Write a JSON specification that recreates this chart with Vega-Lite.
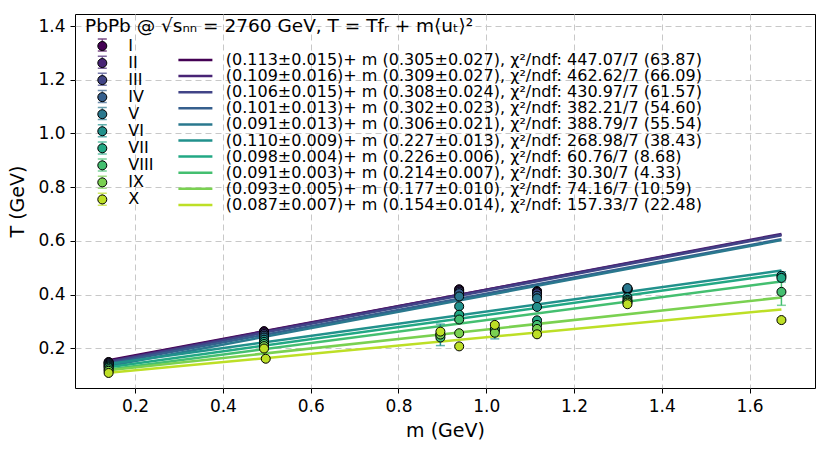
{
  "$schema": "https://vega.github.io/schema/vega-lite/v6.json",
  "width": 740,
  "height": 374,
  "autosize": {"type": "none"},
  "padding": {"left": 75, "top": 14, "right": 15, "bottom": 64},
  "background": "white",
  "title": {
    "text": "PbPb @ √sₙₙ = 2760 GeV, T = Tfᵣ + m⟨uₜ⟩²",
    "anchor": "start",
    "orient": "top",
    "frame": "group",
    "offset": -21,
    "dx": 10,
    "font": "DejaVu Sans",
    "fontSize": 18.5,
    "fontWeight": "normal",
    "color": "black"
  },
  "config": {
    "view": {"stroke": "black", "strokeWidth": 1},
    "axis": {
      "domain": false,
      "grid": true,
      "gridColor": "#c8c8c8",
      "gridDash": [6, 4],
      "gridWidth": 1,
      "tickColor": "black",
      "tickSize": 5,
      "tickWidth": 1,
      "labelFont": "DejaVu Sans",
      "labelFontSize": 17,
      "labelColor": "black",
      "titleFont": "DejaVu Sans",
      "titleFontSize": 19,
      "titleFontWeight": "normal",
      "titleColor": "black"
    },
    "legend": {
      "labelFont": "DejaVu Sans",
      "labelFontSize": 16,
      "labelColor": "black",
      "padding": 0,
      "rowPadding": 1.05,
      "title": null
    }
  },
  "datasets": {
    "points": [
      {"particle": "pi", "m": 0.1396, "cls": "I", "T": 0.149, "lo": 0.145, "hi": 0.153},
      {"particle": "pi", "m": 0.1396, "cls": "II", "T": 0.147, "lo": 0.143, "hi": 0.151},
      {"particle": "pi", "m": 0.1396, "cls": "III", "T": 0.144, "lo": 0.140, "hi": 0.148},
      {"particle": "pi", "m": 0.1396, "cls": "IV", "T": 0.140, "lo": 0.136, "hi": 0.144},
      {"particle": "pi", "m": 0.1396, "cls": "V", "T": 0.136, "lo": 0.132, "hi": 0.140},
      {"particle": "pi", "m": 0.1396, "cls": "VI", "T": 0.132, "lo": 0.128, "hi": 0.136},
      {"particle": "pi", "m": 0.1396, "cls": "VII", "T": 0.128, "lo": 0.124, "hi": 0.132},
      {"particle": "pi", "m": 0.1396, "cls": "VIII", "T": 0.122, "lo": 0.118, "hi": 0.126},
      {"particle": "pi", "m": 0.1396, "cls": "IX", "T": 0.116, "lo": 0.112, "hi": 0.120},
      {"particle": "pi", "m": 0.1396, "cls": "X", "T": 0.108, "lo": 0.104, "hi": 0.112},
      {"particle": "K", "m": 0.4937, "cls": "I", "T": 0.264, "lo": 0.259, "hi": 0.269},
      {"particle": "K", "m": 0.4937, "cls": "II", "T": 0.259, "lo": 0.254, "hi": 0.264},
      {"particle": "K", "m": 0.4937, "cls": "III", "T": 0.253, "lo": 0.248, "hi": 0.258},
      {"particle": "K", "m": 0.4937, "cls": "IV", "T": 0.247, "lo": 0.242, "hi": 0.252},
      {"particle": "K", "m": 0.4937, "cls": "V", "T": 0.240, "lo": 0.235, "hi": 0.245},
      {"particle": "K", "m": 0.4937, "cls": "VI", "T": 0.232, "lo": 0.227, "hi": 0.237},
      {"particle": "K", "m": 0.4937, "cls": "VII", "T": 0.224, "lo": 0.219, "hi": 0.229},
      {"particle": "K", "m": 0.4937, "cls": "VIII", "T": 0.216, "lo": 0.211, "hi": 0.221},
      {"particle": "K", "m": 0.4937, "cls": "IX", "T": 0.208, "lo": 0.203, "hi": 0.213},
      {"particle": "K", "m": 0.4937, "cls": "X", "T": 0.199, "lo": 0.194, "hi": 0.204},
      {"particle": "K0s", "m": 0.4976, "cls": "X", "T": 0.161, "lo": 0.156, "hi": 0.166},
      {"particle": "K*", "m": 0.8955, "cls": "VI", "T": 0.250, "lo": 0.210, "hi": 0.290},
      {"particle": "K*", "m": 0.8955, "cls": "VIII", "T": 0.240, "lo": 0.232, "hi": 0.248},
      {"particle": "K*", "m": 0.8955, "cls": "IX", "T": 0.251, "lo": 0.243, "hi": 0.259},
      {"particle": "K*", "m": 0.8955, "cls": "X", "T": 0.262, "lo": 0.254, "hi": 0.270},
      {"particle": "p", "m": 0.9383, "cls": "I", "T": 0.420, "lo": 0.414, "hi": 0.426},
      {"particle": "p", "m": 0.9383, "cls": "II", "T": 0.416, "lo": 0.410, "hi": 0.422},
      {"particle": "p", "m": 0.9383, "cls": "III", "T": 0.411, "lo": 0.405, "hi": 0.417},
      {"particle": "p", "m": 0.9383, "cls": "IV", "T": 0.405, "lo": 0.399, "hi": 0.411},
      {"particle": "p", "m": 0.9383, "cls": "V", "T": 0.393, "lo": 0.387, "hi": 0.399},
      {"particle": "p", "m": 0.9383, "cls": "VI", "T": 0.356, "lo": 0.350, "hi": 0.362},
      {"particle": "p", "m": 0.9383, "cls": "VII", "T": 0.325, "lo": 0.319, "hi": 0.331},
      {"particle": "p", "m": 0.9383, "cls": "VIII", "T": 0.307, "lo": 0.301, "hi": 0.313},
      {"particle": "p", "m": 0.9383, "cls": "IX", "T": 0.256, "lo": 0.250, "hi": 0.262},
      {"particle": "p", "m": 0.9383, "cls": "X", "T": 0.207, "lo": 0.201, "hi": 0.213},
      {"particle": "phi", "m": 1.0195, "cls": "VI", "T": 0.265, "lo": 0.235, "hi": 0.295},
      {"particle": "phi", "m": 1.0195, "cls": "VIII", "T": 0.271, "lo": 0.263, "hi": 0.279},
      {"particle": "phi", "m": 1.0195, "cls": "IX", "T": 0.258, "lo": 0.250, "hi": 0.266},
      {"particle": "phi", "m": 1.0195, "cls": "X", "T": 0.287, "lo": 0.279, "hi": 0.295},
      {"particle": "Lambda", "m": 1.1157, "cls": "I", "T": 0.413, "lo": 0.407, "hi": 0.419},
      {"particle": "Lambda", "m": 1.1157, "cls": "II", "T": 0.410, "lo": 0.404, "hi": 0.416},
      {"particle": "Lambda", "m": 1.1157, "cls": "III", "T": 0.405, "lo": 0.399, "hi": 0.411},
      {"particle": "Lambda", "m": 1.1157, "cls": "IV", "T": 0.396, "lo": 0.390, "hi": 0.402},
      {"particle": "Lambda", "m": 1.1157, "cls": "V", "T": 0.386, "lo": 0.380, "hi": 0.392},
      {"particle": "Lambda", "m": 1.1157, "cls": "VI", "T": 0.354, "lo": 0.348, "hi": 0.360},
      {"particle": "Lambda", "m": 1.1157, "cls": "VII", "T": 0.304, "lo": 0.298, "hi": 0.310},
      {"particle": "Lambda", "m": 1.1157, "cls": "VIII", "T": 0.287, "lo": 0.281, "hi": 0.293},
      {"particle": "Lambda", "m": 1.1157, "cls": "IX", "T": 0.272, "lo": 0.266, "hi": 0.278},
      {"particle": "Lambda", "m": 1.1157, "cls": "X", "T": 0.252, "lo": 0.246, "hi": 0.258},
      {"particle": "Xi", "m": 1.3217, "cls": "I", "T": 0.418, "lo": 0.412, "hi": 0.424},
      {"particle": "Xi", "m": 1.3217, "cls": "II", "T": 0.420, "lo": 0.414, "hi": 0.426},
      {"particle": "Xi", "m": 1.3217, "cls": "III", "T": 0.421, "lo": 0.415, "hi": 0.427},
      {"particle": "Xi", "m": 1.3217, "cls": "IV", "T": 0.422, "lo": 0.416, "hi": 0.428},
      {"particle": "Xi", "m": 1.3217, "cls": "V", "T": 0.424, "lo": 0.418, "hi": 0.430},
      {"particle": "Xi", "m": 1.3217, "cls": "VI", "T": 0.390, "lo": 0.384, "hi": 0.396},
      {"particle": "Xi", "m": 1.3217, "cls": "VII", "T": 0.380, "lo": 0.374, "hi": 0.386},
      {"particle": "Xi", "m": 1.3217, "cls": "VIII", "T": 0.375, "lo": 0.369, "hi": 0.381},
      {"particle": "Xi", "m": 1.3217, "cls": "IX", "T": 0.370, "lo": 0.364, "hi": 0.376},
      {"particle": "Xi", "m": 1.3217, "cls": "X", "T": 0.364, "lo": 0.358, "hi": 0.370},
      {"particle": "Omega", "m": 1.6725, "cls": "VI", "T": 0.470, "lo": 0.455, "hi": 0.485},
      {"particle": "Omega", "m": 1.6725, "cls": "VII", "T": 0.462, "lo": 0.447, "hi": 0.477},
      {"particle": "Omega", "m": 1.6725, "cls": "VIII", "T": 0.410, "lo": 0.360, "hi": 0.460},
      {"particle": "Omega", "m": 1.6725, "cls": "X", "T": 0.305, "lo": 0.297, "hi": 0.313}
    ],
    "fits": [
      {"fit": "(0.113±0.015)+ m (0.305±0.027),  χ²/ndf: 447.07/7 (63.87)", "m": 0.1396, "T": 0.1556},
      {"fit": "(0.113±0.015)+ m (0.305±0.027),  χ²/ndf: 447.07/7 (63.87)", "m": 1.6725, "T": 0.6231},
      {"fit": "(0.109±0.016)+ m (0.309±0.027),  χ²/ndf: 462.62/7 (66.09)", "m": 0.1396, "T": 0.1521},
      {"fit": "(0.109±0.016)+ m (0.309±0.027),  χ²/ndf: 462.62/7 (66.09)", "m": 1.6725, "T": 0.6258},
      {"fit": "(0.106±0.015)+ m (0.308±0.024),  χ²/ndf: 430.97/7 (61.57)", "m": 0.1396, "T": 0.1490},
      {"fit": "(0.106±0.015)+ m (0.308±0.024),  χ²/ndf: 430.97/7 (61.57)", "m": 1.6725, "T": 0.6211},
      {"fit": "(0.101±0.013)+ m (0.302±0.023),  χ²/ndf: 382.21/7 (54.60)", "m": 0.1396, "T": 0.1432},
      {"fit": "(0.101±0.013)+ m (0.302±0.023),  χ²/ndf: 382.21/7 (54.60)", "m": 1.6725, "T": 0.6061},
      {"fit": "(0.091±0.013)+ m (0.306±0.021),  χ²/ndf: 388.79/7 (55.54)", "m": 0.1396, "T": 0.1337},
      {"fit": "(0.091±0.013)+ m (0.306±0.021),  χ²/ndf: 388.79/7 (55.54)", "m": 1.6725, "T": 0.6028},
      {"fit": "(0.110±0.009)+ m (0.227±0.013),  χ²/ndf: 268.98/7 (38.43)", "m": 0.1396, "T": 0.1417},
      {"fit": "(0.110±0.009)+ m (0.227±0.013),  χ²/ndf: 268.98/7 (38.43)", "m": 1.6725, "T": 0.4897},
      {"fit": "(0.098±0.004)+ m (0.226±0.006),  χ²/ndf: 60.76/7 (8.68)", "m": 0.1396, "T": 0.1296},
      {"fit": "(0.098±0.004)+ m (0.226±0.006),  χ²/ndf: 60.76/7 (8.68)", "m": 1.6725, "T": 0.4760},
      {"fit": "(0.091±0.003)+ m (0.214±0.007),  χ²/ndf: 30.30/7 (4.33)", "m": 0.1396, "T": 0.1209},
      {"fit": "(0.091±0.003)+ m (0.214±0.007),  χ²/ndf: 30.30/7 (4.33)", "m": 1.6725, "T": 0.4489},
      {"fit": "(0.093±0.005)+ m (0.177±0.010),  χ²/ndf: 74.16/7 (10.59)", "m": 0.1396, "T": 0.1177},
      {"fit": "(0.093±0.005)+ m (0.177±0.010),  χ²/ndf: 74.16/7 (10.59)", "m": 1.6725, "T": 0.3890},
      {"fit": "(0.087±0.007)+ m (0.154±0.014),  χ²/ndf: 157.33/7 (22.48)", "m": 0.1396, "T": 0.1085},
      {"fit": "(0.087±0.007)+ m (0.154±0.014),  χ²/ndf: 157.33/7 (22.48)", "m": 1.6725, "T": 0.3446}
    ]
  },
  "layer": [
    {
      "data": {"name": "fits"},
      "mark": {"type": "line", "strokeWidth": 2.5},
      "encoding": {
        "x": {
          "field": "m",
          "type": "quantitative",
          "title": "m (GeV)",
          "scale": {"domain": [0.063, 1.749], "nice": false, "zero": false},
          "axis": {"values": [0.2, 0.4, 0.6, 0.8, 1.0, 1.2, 1.4, 1.6], "format": ".1f", "labelPadding": 5, "titlePadding": 7}
        },
        "y": {
          "field": "T",
          "type": "quantitative",
          "title": "T (GeV)",
          "scale": {"domain": [0.052, 1.445], "nice": false, "zero": false},
          "axis": {"values": [0.2, 0.4, 0.6, 0.8, 1.0, 1.2, 1.4], "format": ".1f", "labelPadding": 5, "titlePadding": 10}
        },
        "stroke": {
          "field": "fit",
          "type": "nominal",
          "sort": null,
          "scale": {
            "domain": [
              "(0.113±0.015)+ m (0.305±0.027),  χ²/ndf: 447.07/7 (63.87)",
              "(0.109±0.016)+ m (0.309±0.027),  χ²/ndf: 462.62/7 (66.09)",
              "(0.106±0.015)+ m (0.308±0.024),  χ²/ndf: 430.97/7 (61.57)",
              "(0.101±0.013)+ m (0.302±0.023),  χ²/ndf: 382.21/7 (54.60)",
              "(0.091±0.013)+ m (0.306±0.021),  χ²/ndf: 388.79/7 (55.54)",
              "(0.110±0.009)+ m (0.227±0.013),  χ²/ndf: 268.98/7 (38.43)",
              "(0.098±0.004)+ m (0.226±0.006),  χ²/ndf: 60.76/7 (8.68)",
              "(0.091±0.003)+ m (0.214±0.007),  χ²/ndf: 30.30/7 (4.33)",
              "(0.093±0.005)+ m (0.177±0.010),  χ²/ndf: 74.16/7 (10.59)",
              "(0.087±0.007)+ m (0.154±0.014),  χ²/ndf: 157.33/7 (22.48)"
            ],
            "range": ["#440154", "#482475", "#414487", "#355f8d", "#2a788e", "#21918c", "#22a884", "#44bf70", "#7ad151", "#bddf26"]
          },
          "legend": {
            "orient": "none",
            "legendX": 112.4,
            "legendY": 38,
            "symbolType": "M-3,0L3,0",
            "symbolSize": 128.4,
            "symbolStrokeWidth": 2.5,
            "labelOffset": 22.4,
            "labelLimit": 700,
            "rowPadding": 0.1
          }
        }
      }
    },
    {
      "data": {"name": "points"},
      "encoding": {
        "x": {"field": "m", "type": "quantitative", "title": "m (GeV)"},
        "color": {
          "field": "cls",
          "type": "nominal",
          "sort": null,
          "scale": {
            "domain": ["I", "II", "III", "IV", "V", "VI", "VII", "VIII", "IX", "X"],
            "range": ["#440154", "#482475", "#414487", "#355f8d", "#2a788e", "#21918c", "#22a884", "#44bf70", "#7ad151", "#bddf26"]
          },
          "legend": {
            "orient": "none",
            "legendX": 19.3,
            "legendY": 23,
            "zindex": 1,
            "symbolType": "M0,-1L0,1M-0.75,-1L0.75,-1M-0.75,1L0.75,1",
            "symbolSize": 144,
            "symbolStrokeWidth": 1.5,
            "symbolFillColor": "transparent",
            "labelOffset": 18,
            "labelOpacity": 0,
            "rowPadding": -0.85
          }
        }
      },
      "layer": [
        {
          "mark": {"type": "rule", "strokeWidth": 1.5},
          "encoding": {
            "y": {"field": "lo", "type": "quantitative", "title": "T (GeV)"},
            "y2": {"field": "hi"}
          }
        },
        {
          "mark": {"type": "tick", "orient": "horizontal", "size": 9, "thickness": 1.5},
          "encoding": {"y": {"field": "lo", "type": "quantitative", "title": "T (GeV)"}}
        },
        {
          "mark": {"type": "tick", "orient": "horizontal", "size": 9, "thickness": 1.5},
          "encoding": {"y": {"field": "hi", "type": "quantitative", "title": "T (GeV)"}}
        }
      ]
    },
    {
      "data": {"name": "points"},
      "mark": {"type": "point", "filled": true, "size": 81, "opacity": 1, "stroke": "black", "strokeWidth": 1},
      "encoding": {
        "x": {"field": "m", "type": "quantitative", "title": "m (GeV)"},
        "y": {"field": "T", "type": "quantitative", "title": "T (GeV)"},
        "fill": {
          "field": "cls",
          "type": "nominal",
          "sort": null,
          "scale": {
            "domain": ["I", "II", "III", "IV", "V", "VI", "VII", "VIII", "IX", "X"],
            "range": ["#440154", "#482475", "#414487", "#355f8d", "#2a788e", "#21918c", "#22a884", "#44bf70", "#7ad151", "#bddf26"]
          },
          "legend": {
            "orient": "none",
            "legendX": 19.3,
            "legendY": 24,
            "zindex": 2,
            "symbolType": "M0.75,0A0.75,0.75,0,1,1,-0.75,0A0.75,0.75,0,1,1,0.75,0Z",
            "symbolSize": 144,
            "symbolStrokeColor": "black",
            "symbolStrokeWidth": 1,
            "symbolOpacity": 1,
            "labelOffset": 18
          }
        }
      }
    }
  ],
  "resolve": {
    "scale": {"color": "independent", "fill": "independent", "stroke": "independent"},
    "legend": {"color": "independent", "fill": "independent", "stroke": "independent"}
  }
}
